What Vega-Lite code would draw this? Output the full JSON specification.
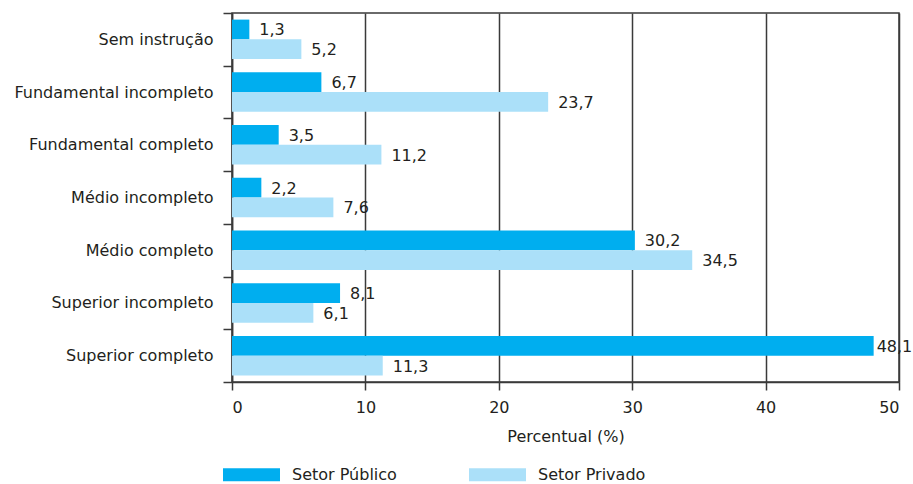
{
  "$schema": "https://vega.github.io/schema/vega-lite/v6.json",
  "width": 667,
  "height": 369,
  "autosize": "none",
  "padding": {"left": 232, "top": 13, "right": 14, "bottom": 102},
  "background": "white",
  "config": {
    "font": "DejaVu Sans",
    "locale": {"number": {"decimal": ",", "thousands": ".", "grouping": [3], "currency": ["R$", ""]}},
    "view": {"stroke": "#3a3a3a", "strokeWidth": 1.5},
    "axis": {"labelColor": "#231F20", "titleColor": "#231F20", "labelFont": "DejaVu Sans", "titleFont": "DejaVu Sans"}
  },
  "data": {
    "values": [
      {"categoria": "Sem instrução", "setor": "Setor Público", "valor": 1.3},
      {"categoria": "Sem instrução", "setor": "Setor Privado", "valor": 5.2},
      {"categoria": "Fundamental incompleto", "setor": "Setor Público", "valor": 6.7},
      {"categoria": "Fundamental incompleto", "setor": "Setor Privado", "valor": 23.7},
      {"categoria": "Fundamental completo", "setor": "Setor Público", "valor": 3.5},
      {"categoria": "Fundamental completo", "setor": "Setor Privado", "valor": 11.2},
      {"categoria": "Médio incompleto", "setor": "Setor Público", "valor": 2.2},
      {"categoria": "Médio incompleto", "setor": "Setor Privado", "valor": 7.6},
      {"categoria": "Médio completo", "setor": "Setor Público", "valor": 30.2},
      {"categoria": "Médio completo", "setor": "Setor Privado", "valor": 34.5},
      {"categoria": "Superior incompleto", "setor": "Setor Público", "valor": 8.1},
      {"categoria": "Superior incompleto", "setor": "Setor Privado", "valor": 6.1},
      {"categoria": "Superior completo", "setor": "Setor Público", "valor": 48.1},
      {"categoria": "Superior completo", "setor": "Setor Privado", "valor": 11.3}
    ]
  },
  "encoding": {
    "y": {
      "field": "categoria", "type": "nominal", "sort": null,
      "scale": {"paddingInner": 0, "paddingOuter": 0},
      "axis": {
        "title": null, "tickBand": "extent", "domainColor": "#3a3a3a", "domainWidth": 1.5,
        "tickColor": "#3a3a3a", "tickWidth": 1.5, "tickSize": 9, "labelPadding": 10,
        "labelFontSize": 16, "labelLimit": 400, "grid": false
      }
    },
    "yOffset": {
      "field": "setor", "type": "nominal",
      "sort": ["Setor Público", "Setor Privado"],
      "scale": {"paddingInner": 0, "paddingOuter": 0.334}
    },
    "x": {
      "field": "valor", "type": "quantitative",
      "scale": {"domain": [0, 50], "nice": false},
      "axis": {
        "title": "Percentual (%)", "values": [0, 10, 20, 30, 40, 50],
        "grid": true, "gridColor": "#3a3a3a", "gridWidth": 1.5,
        "domainColor": "#3a3a3a", "domainWidth": 1.5,
        "tickColor": "#3a3a3a", "tickWidth": 1.5, "tickSize": 8,
        "labelPadding": 9, "labelFontSize": 16, "labelFontWeight": "normal",
        "titleFontSize": 16, "titleFontWeight": "normal", "titlePadding": 13
      }
    }
  },
  "layer": [
    {
      "mark": {"type": "bar"},
      "encoding": {
        "color": {
          "field": "setor", "type": "nominal",
          "scale": {"domain": ["Setor Público", "Setor Privado"], "range": ["#00AEEF", "#ABE0F9"]},
          "legend": {
            "title": null, "orient": "none", "legendX": -9, "legendY": 433,
            "direction": "horizontal", "columns": 2,
            "symbolType": "M-1,-0.23H1V0.23H-1Z", "symbolSize": 3249,
            "symbolStrokeWidth": 0, "symbolOpacity": 1,
            "labelOffset": 12, "labelFontSize": 16, "labelColor": "#231F20",
            "labelFont": "DejaVu Sans", "labelLimit": 300, "columnPadding": 72
          }
        }
      }
    },
    {
      "transform": [{"filter": "datum.valor < 45"}],
      "mark": {"type": "text", "align": "left", "baseline": "middle", "dx": 10, "dy": 1, "fontSize": 16, "color": "#231F20"},
      "encoding": {
        "text": {"field": "valor", "type": "quantitative", "format": ".1f"}
      }
    },
    {
      "transform": [{"filter": "datum.valor >= 45"}],
      "mark": {"type": "text", "align": "left", "baseline": "middle", "dx": 3, "dy": 1, "fontSize": 16, "color": "#231F20"},
      "encoding": {
        "text": {"field": "valor", "type": "quantitative", "format": ".1f"}
      }
    }
  ]
}
